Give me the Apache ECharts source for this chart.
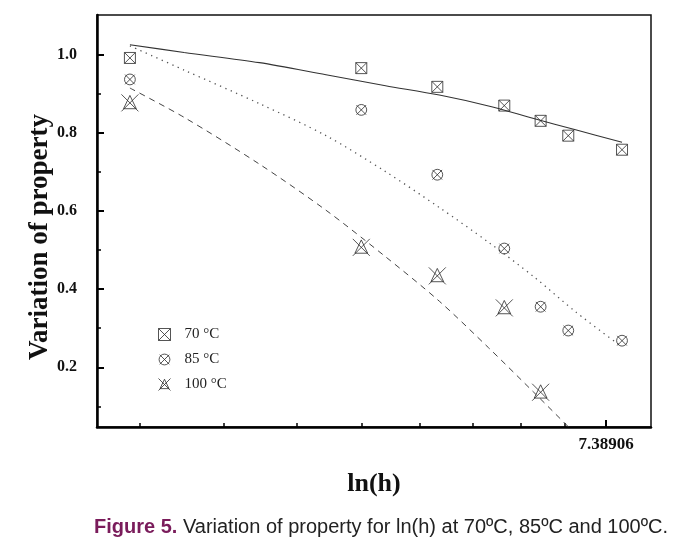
<!DOCTYPE html>
<html>
<head>
<meta charset="utf-8">
<script src="https://cdn.jsdelivr.net/npm/echarts@6/dist/echarts.min.js"></script>
<style>
html,body{margin:0;padding:0;background:#fff;}
#chart{width:687px;height:546px;}
</style>
</head>
<body>
<div id="chart"></div>
<script>
// ln(h) positions of the measurements
const xLnH = [3.18, 4.79, 5.48, 6.17, 6.58, 6.91, 7.60];
const v70 = [0.992, 0.966, 0.918, 0.870, 0.831, 0.793, 0.757];
const v85 = [0.937, 0.859, 0.693, 0.504, 0.355, 0.294, 0.268];
const x100 = [3.18, 4.79, 5.48, 6.17, 6.58];
const v100 = [0.877, 0.507, 0.434, 0.352, 0.136];
// fitted curves
const fitX = [3.18, 3.5, 4.0, 4.5, 5.0, 5.5, 6.0, 6.5, 7.0, 7.6];
const fit70 = [1.026, 1.006, 0.980, 0.949, 0.921, 0.897, 0.869, 0.837, 0.808, 0.776];
const fit85 = [1.023, 0.961, 0.875, 0.793, 0.701, 0.609, 0.520, 0.432, 0.342, 0.252];
const fit100X = [3.18, 3.5, 4.0, 4.5, 5.0, 5.5, 6.0, 6.5, 7.0];
const fit100 = [0.915, 0.840, 0.720, 0.602, 0.483, 0.369, 0.250, 0.136, 0.029];
// ticks
const xMajorTicks = [7.389056];
const xMinorTicks = [3.237257, 3.756232, 4.275207, 4.794182, 5.313157, 5.832132, 6.351107, 6.870082];
const yMajorTicks = [0.2, 0.4, 0.6, 0.8, 1.0];
const yMinorTicks = [0.1, 0.3, 0.5, 0.7, 0.9];
const seriesNames = ['70 °C', '85 °C', '100 °C'];

const zip = (xs, ys) => ys.map((y, i) => [xs[i], y]);
const serif = 'Liberation Serif';
const ink = '#2a2a2a';
const symSquare = 'path://M0,0H10V10H0Z M0,0L10,10 M10,0L0,10';
const symCircle = 'path://M5,0.5A4.5,4.5 0 1 1 4.99,0.5Z M1,1L9,9 M9,1L1,9 M0,0.01L0,0 M10,10L10,9.99';
const symTri = 'path://M0,0L16,16 M16,0L0,16 M8,1L14,13.5L2,13.5Z';

const chart = echarts.init(document.getElementById('chart'));
const xBase = {
  type: 'log', logBase: Math.E, min: 3, max: 8, gridIndex: 0, position: 'bottom',
  splitLine: {show: false}, minorTick: {show: false}
};
const yBase = {
  type: 'value', min: 0.047, max: 1.102, gridIndex: 0, position: 'left',
  splitLine: {show: false}, minorTick: {show: false}
};
const markerStyle = {color: 'rgba(0,0,0,0)', borderColor: ink, borderWidth: 1};
chart.setOption({
  animation: false,
  backgroundColor: '#fff',
  grid: {left: 97, top: 15, right: 36, bottom: 119, show: true, borderColor: '#111', borderWidth: 1.5, backgroundColor: 'transparent'},
  xAxis: [
    Object.assign({}, xBase, {
      name: 'ln(h)', nameLocation: 'middle', nameGap: 44,
      nameTextStyle: {fontFamily: serif, fontWeight: 'bold', fontSize: 26, color: '#111'},
      axisLine: {show: true, lineStyle: {color: '#000', width: 2.5}},
      axisTick: {show: true, inside: true, length: 7, lineStyle: {color: '#000', width: 2}, customValues: xMajorTicks},
      axisLabel: {show: true, customValues: xMajorTicks, margin: 9, formatter: v => Number(v).toFixed(5),
        fontFamily: serif, fontWeight: 'bold', fontSize: 17, color: '#111'}
    }),
    Object.assign({}, xBase, {
      axisLine: {show: false},
      axisTick: {show: true, inside: true, length: 4, lineStyle: {color: '#000', width: 1.5}, customValues: xMinorTicks},
      axisLabel: {show: false}
    })
  ],
  yAxis: [
    Object.assign({}, yBase, {
      name: 'Variation of property', nameLocation: 'middle', nameGap: 43, nameRotate: 90, nameMoveOverlap: false,
      nameTextStyle: {fontFamily: serif, fontWeight: 'bold', fontSize: 27, color: '#111', padding: [0, 32, 0, 0]},
      axisLine: {show: true, lineStyle: {color: '#000', width: 2.5}},
      axisTick: {show: true, inside: true, length: 7, lineStyle: {color: '#000', width: 2}, customValues: yMajorTicks},
      axisLabel: {show: true, customValues: yMajorTicks, margin: 20, formatter: v => Number(v).toFixed(1),
        fontFamily: serif, fontWeight: 'bold', fontSize: 16, color: '#111'}
    }),
    Object.assign({}, yBase, {
      axisLine: {show: false},
      axisTick: {show: true, inside: true, length: 4, lineStyle: {color: '#000', width: 1.5}, customValues: yMinorTicks},
      axisLabel: {show: false}
    })
  ],
  legend: {
    orient: 'vertical', left: 153, top: 322, itemWidth: 12, itemHeight: 12, itemGap: 10,
    data: [
      {name: seriesNames[0], icon: symSquare},
      {name: seriesNames[1], icon: symCircle},
      {name: seriesNames[2], icon: symTri}
    ],
    textStyle: {fontFamily: serif, fontSize: 15, color: '#222', padding: [0, 0, 0, 9]},
    itemStyle: markerStyle
  },
  series: [
    {type: 'line', data: zip(fitX, fit70), showSymbol: false, smooth: 0.3, z: 2,
      lineStyle: {color: '#333', width: 1.1, type: 'solid'}, silent: true},
    {type: 'line', data: zip(fitX, fit85), showSymbol: false, smooth: 0.3, z: 2,
      lineStyle: {color: '#555', width: 1.3, type: [1.3, 4.5]}, silent: true},
    {type: 'line', data: zip(fit100X, fit100), showSymbol: false, smooth: 0.3, z: 2, clip: true,
      lineStyle: {color: '#444', width: 1, type: [6, 5]}, silent: true},
    {name: seriesNames[0], type: 'scatter', data: zip(xLnH, v70), symbol: symSquare, symbolSize: 11, itemStyle: markerStyle, z: 3},
    {name: seriesNames[1], type: 'scatter', data: zip(xLnH, v85), symbol: symCircle, symbolSize: 12, itemStyle: markerStyle, z: 3},
    {name: seriesNames[2], type: 'scatter', data: zip(x100, v100), symbol: symTri, symbolSize: 17, itemStyle: markerStyle, z: 3}
  ],
  graphic: [{
    type: 'text', left: 94, top: 517,
    style: {
      text: '{b|Figure 5.} Variation of property for ln(h) at 70ºC, 85ºC and 100ºC.',
      fontFamily: 'Liberation Sans', fontSize: 20, fill: '#222',
      rich: {b: {fontFamily: 'Liberation Sans', fontSize: 20, fontWeight: 'bold', fill: '#7a1c5b', color: '#7a1c5b'}}
    }
  }]
});
</script>
</body>
</html>
